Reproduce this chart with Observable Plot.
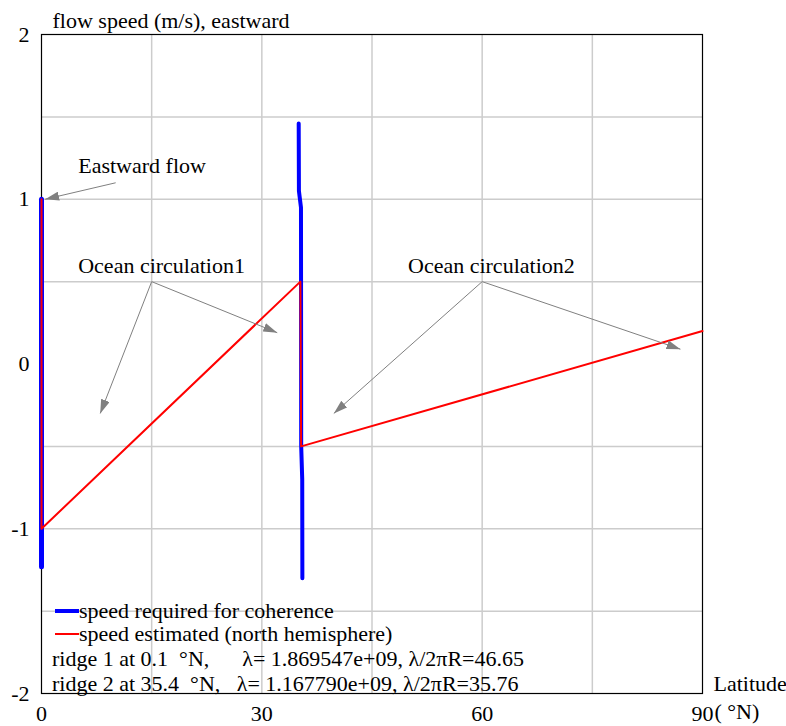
<!DOCTYPE html>
<html>
<head>
<meta charset="utf-8">
<script src="https://cdn.jsdelivr.net/npm/d3@7"></script>
<script src="https://cdn.jsdelivr.net/npm/@observablehq/plot@0.6"></script>
<style>
  body { margin: 0; background: white; }
  #wrap { position: relative; width: 786px; height: 726px; }
  #legend { position: absolute; left: 0; top: 0; font-family: "Liberation Serif", "Times New Roman", serif; font-size: 22px; color: black; }
  .row { position: absolute; white-space: pre; line-height: 24px; height: 24px; }
</style>
</head>
<body>
<div id="wrap"></div>
<script>
// ---- data ----
const xTicks = [0, 30, 60, 90];
const yTicks = [-2, -1, 0, 1, 2];
const xGrid = [15, 30, 45, 60, 75];
const yGrid = [-1.5, -1, -0.5, 0.5, 1, 1.5];

// speed required for coherence (two ridges)
const blueRidge1 = [
  {lat: 0.0, v: 1.0},
  {lat: 0.0, v: -1.23}
];
const blueRidge2 = [
  {lat: 35.02, v: 1.46},
  {lat: 35.05, v: 1.05},
  {lat: 35.33, v: 0.95},
  {lat: 35.36, v: -0.5},
  {lat: 35.5, v: -0.7},
  {lat: 35.52, v: -1.30}
];
// speed estimated (north hemisphere)
const redSpeed = [
  {lat: 0, v: 1.0},
  {lat: 0, v: -1.0},
  {lat: 35.25, v: 0.5},
  {lat: 35.35, v: -0.5},
  {lat: 90, v: 0.2}
];

const annotations = [
  {text: "Eastward flow", lat: 5.0, v: 1.205},
  {text: "Ocean circulation1", lat: 5.0, v: 0.595},
  {text: "Ocean circulation2", lat: 49.9, v: 0.595}
];
const arrows = [
  {x1: 10.1, y1: 1.10, x2: 0.5, y2: 1.0},
  {x1: 15, y1: 0.5, x2: 8.0, y2: -0.30},
  {x1: 15, y1: 0.5, x2: 32.1, y2: 0.19},
  {x1: 60, y1: 0.5, x2: 39.8, y2: -0.30},
  {x1: 60, y1: 0.5, x2: 87.0, y2: 0.09}
];

const legendItems = [
  {label: "speed required for coherence", color: "#0000ff", width: 4},
  {label: "speed estimated (north hemisphere)", color: "#ff0000", width: 2}
];
const ridgeLines = [
  "ridge 1 at 0.1  \u00b0N,      \u03bb= 1.869547e+09, \u03bb/2\u03c0R=46.65",
  "ridge 2 at 35.4  \u00b0N,   \u03bb= 1.167790e+09, \u03bb/2\u03c0R=35.76"
];

// ---- filled arrowhead marker ----
function filledArrow(color) {
  const ns = "http://www.w3.org/2000/svg";
  const m = document.createElementNS(ns, "marker");
  m.setAttribute("viewBox", "0 -4.5 14 9");
  m.setAttribute("refX", "14");
  m.setAttribute("refY", "0");
  m.setAttribute("markerWidth", "14");
  m.setAttribute("markerHeight", "9");
  m.setAttribute("markerUnits", "userSpaceOnUse");
  m.setAttribute("orient", "auto");
  const p = document.createElementNS(ns, "path");
  p.setAttribute("d", "M0,-4.5L14,0L0,4.5Z");
  p.setAttribute("fill", color);
  p.setAttribute("stroke", "none");
  m.appendChild(p);
  return m;
}

const gridColor = "#cccccc";
const font = "Liberation Serif, Times New Roman, serif";

const chart = Plot.plot({
  width: 786,
  height: 726,
  marginLeft: 41,
  marginRight: 84,
  marginTop: 34,
  marginBottom: 33,
  style: {fontFamily: font, fontSize: "22px", background: "white", color: "black", overflow: "visible"},
  x: {domain: [0, 90], label: null},
  y: {domain: [-2, 2], label: null},
  marks: [
    Plot.ruleX(xGrid, {stroke: gridColor, strokeWidth: 1.5}),
    Plot.ruleY(yGrid, {stroke: gridColor, strokeWidth: 1.5}),
    Plot.frame({stroke: "black", strokeWidth: 1.2}),
    Plot.axisX(xTicks, {tickSize: 0, tickPadding: 12, fontSize: 22, label: null, tickFormat: d => String(d)}),
    Plot.axisY(yTicks, {tickSize: 0, tickPadding: 12, fontSize: 22, label: null, tickFormat: d => String(d)}),
    Plot.line(blueRidge1, {x: "lat", y: "v", stroke: "#0000ff", strokeWidth: 5}),
    Plot.line(blueRidge2, {x: "lat", y: "v", stroke: "#0000ff", strokeWidth: 4}),
    Plot.line(redSpeed, {x: "lat", y: "v", stroke: "#ff0000", strokeWidth: 2}),
    Plot.link(arrows, {x1: "x1", y1: "y1", x2: "x2", y2: "y2", stroke: "#808080", strokeWidth: 1, markerEnd: filledArrow}),
    Plot.text(annotations, {x: "lat", y: "v", text: "text", textAnchor: "start", fontSize: 22, fill: "black"}),
    Plot.text(["flow speed (m/s), eastward"], {frameAnchor: "top-left", textAnchor: "start", lineAnchor: "middle", dx: 11, dy: -14, fontSize: 22, fill: "black"}),
    Plot.text(["Latitude"], {frameAnchor: "bottom-right", textAnchor: "start", lineAnchor: "middle", dx: 11, dy: -10, fontSize: 22, fill: "black"}),
    Plot.text(["( \u00b0N)"], {frameAnchor: "bottom-right", textAnchor: "start", lineAnchor: "middle", dx: 12, dy: 18, fontSize: 22, fill: "black"})
  ]
});

const wrap = document.getElementById("wrap");
wrap.appendChild(chart);

// legend overlay (inside the plot frame, bottom-left)
const legend = document.createElement("div");
legend.id = "legend";
const rowTops = [599, 622, 647, 672];
legendItems.forEach((it, i) => {
  const row = document.createElement("div");
  row.className = "row";
  row.style.left = "55px";
  row.style.top = rowTops[i] + "px";
  const sw = document.createElementNS("http://www.w3.org/2000/svg", "svg");
  sw.setAttribute("width", "24");
  sw.setAttribute("height", "24");
  sw.style.verticalAlign = "top";
  const ln = document.createElementNS("http://www.w3.org/2000/svg", "line");
  ln.setAttribute("x1", "0"); ln.setAttribute("x2", "24");
  ln.setAttribute("y1", "12"); ln.setAttribute("y2", "12");
  ln.setAttribute("stroke", it.color);
  ln.setAttribute("stroke-width", it.width);
  sw.appendChild(ln);
  row.appendChild(sw);
  row.appendChild(document.createTextNode(it.label));
  legend.appendChild(row);
});
ridgeLines.forEach((t, i) => {
  const row = document.createElement("div");
  row.className = "row";
  row.style.left = "52px";
  row.style.top = rowTops[i + 2] + "px";
  row.textContent = t;
  legend.appendChild(row);
});
wrap.appendChild(legend);
</script>
</body>
</html>
